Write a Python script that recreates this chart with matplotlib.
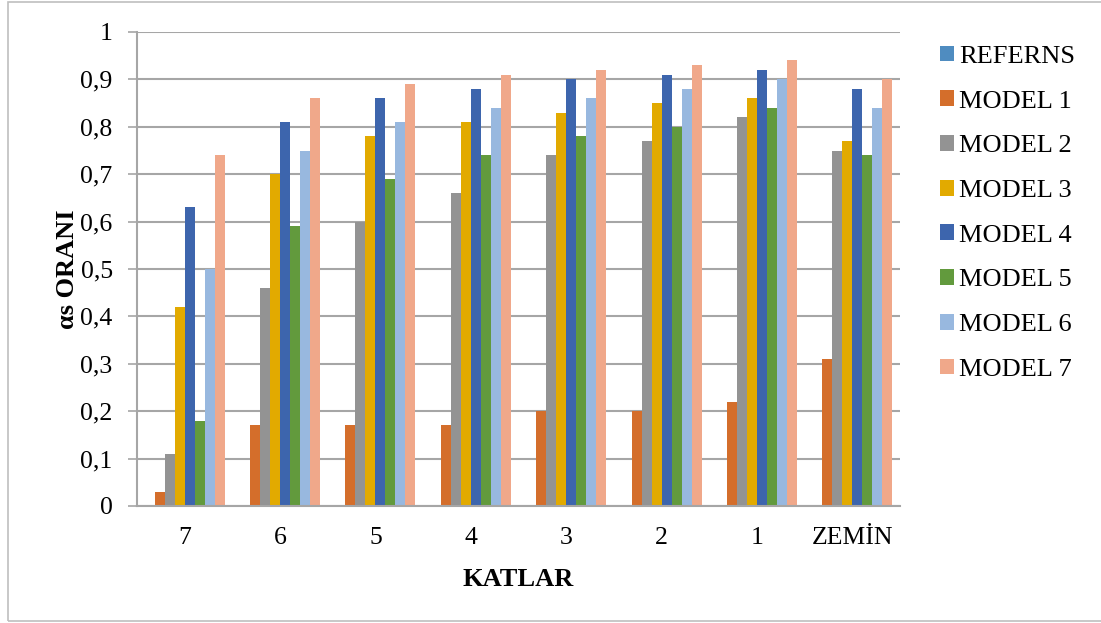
import matplotlib
matplotlib.use("Agg")
import matplotlib.pyplot as plt
import numpy as np
from matplotlib.patches import Rectangle

# Floors (categories) and ratio values per model
categories = ["7", "6", "5", "4", "3", "2", "1", "ZEMİN"]
series_names = ["REFERNS", "MODEL 1", "MODEL 2", "MODEL 3",
                "MODEL 4", "MODEL 5", "MODEL 6", "MODEL 7"]

referns = [0, 0, 0, 0, 0, 0, 0, 0]
model1 = [0.03, 0.17, 0.17, 0.17, 0.20, 0.20, 0.22, 0.31]
model2 = [0.11, 0.46, 0.60, 0.66, 0.74, 0.77, 0.82, 0.75]
model3 = [0.42, 0.70, 0.78, 0.81, 0.83, 0.85, 0.86, 0.77]
model4 = [0.63, 0.81, 0.86, 0.88, 0.90, 0.91, 0.92, 0.88]
model5 = [0.18, 0.59, 0.69, 0.74, 0.78, 0.80, 0.84, 0.74]
model6 = [0.50, 0.75, 0.81, 0.84, 0.86, 0.88, 0.90, 0.84]
model7 = [0.74, 0.86, 0.89, 0.91, 0.92, 0.93, 0.94, 0.90]

y_ticks = [0, 0.1, 0.2, 0.3, 0.4, 0.5, 0.6, 0.7, 0.8, 0.9, 1.0]
y_tick_labels = ["0", "0,1", "0,2", "0,3", "0,4", "0,5", "0,6", "0,7", "0,8", "0,9", "1"]

all_series = [referns, model1, model2, model3, model4, model5, model6, model7]
colors = ["#4F8CC0", "#D46E2B", "#939393", "#E2AA00",
          "#3D65AD", "#629A3D", "#98B8DF", "#F0A88A"]

plt.rcParams["font.family"] = ["Liberation Serif", "DejaVu Serif"]

fig = plt.figure(figsize=(11.01, 6.23), dpi=100)
ax = fig.add_axes([137 / 1101, 117 / 623, 763 / 1101, 474 / 623])

# outer frame around the whole chart
fig.patches.append(Rectangle((8 / 1101, 2 / 623), 1100 / 1101, 619 / 623,
                             transform=fig.transFigure, fill=False,
                             edgecolor="#BFBFBF", linewidth=1.2, zorder=0))

x = np.arange(len(categories))
bw = 0.105
n = len(all_series)
for i, (name, vals, c) in enumerate(zip(series_names, all_series, colors)):
    ax.bar(x + (i - (n - 1) / 2) * bw, vals, width=bw, color=c,
           label=name, zorder=3, linewidth=0)

ax.set_xlim(-0.5, len(categories) - 0.5)
ax.set_ylim(0, 1.0)
ax.set_yticks(y_ticks)
ax.set_yticklabels(y_tick_labels)
ax.set_xticks(x)
ax.set_xticklabels(categories)

ax.yaxis.grid(True, color="#A6A6A6", linewidth=1.5, zorder=0)
ax.set_axisbelow(True)
for s in ["top", "right"]:
    ax.spines[s].set_visible(False)
for s in ["left", "bottom"]:
    ax.spines[s].set_color("#A6A6A6")
    ax.spines[s].set_linewidth(1.5)
ax.spines["bottom"].set_zorder(4)

ax.tick_params(axis="y", length=6.5, width=1.2, color="#A6A6A6",
               pad=11, labelsize=18.5)
ax.tick_params(axis="x", length=0, pad=15, labelsize=18.5)

ax.set_xlabel("KATLAR", fontsize=19, fontweight="bold", labelpad=14)
ax.set_ylabel("αs ORANI", fontsize=19, fontweight="bold", labelpad=1)

leg = ax.legend(loc="upper left", bbox_to_anchor=(929 / 1101, 1 - 35 / 623),
                bbox_transform=fig.transFigure, frameon=False,
                fontsize=19, handlelength=0.55, handleheight=0.55,
                handletextpad=0.2, labelspacing=0.85, borderaxespad=0)

fig.savefig("out.png", dpi=100)
